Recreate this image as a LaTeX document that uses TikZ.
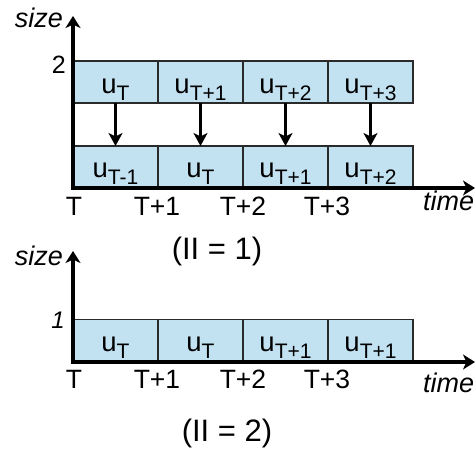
\documentclass[tikz,border=0pt]{standalone}
\usepackage{fontspec}
\setmainfont{Liberation Sans}
\usetikzlibrary{arrows.meta}
\definecolor{boxblue}{HTML}{C2E1F1}
\definecolor{boxedge}{HTML}{2A2A2A}
\newcommand\usub[1]{u\raisebox{-7.5pt}{\fontsize{21}{21}\selectfont #1}}
\tikzset{
  cell/.style={draw=boxedge, line width=1.6pt, fill=boxblue, minimum width=85pt, minimum height=42pt, inner sep=0pt, outer sep=0pt},
  ulabel/.style={anchor=base, inner sep=0pt, font=\fontsize{27.5}{27.5}\selectfont},
  axis/.style={line width=4pt, -{Stealth[length=12pt,width=15pt,inset=3.5pt]}},
  move/.style={line width=3.4pt, -{Stealth[length=13pt,width=14pt,inset=3.5pt]}},
  tick/.style={anchor=base, inner sep=0pt, font=\fontsize{26.5}{26.5}\selectfont},
  axlab/.style={inner sep=0pt, font=\fontsize{27}{27}\selectfont\itshape},
  caption/.style={anchor=base, inner sep=0pt, font=\fontsize{31}{31}\selectfont}
}
\begin{document}
\begin{tikzpicture}[x=1pt,y=-1pt]
\useasboundingbox (0,0) rectangle (475,451);
% ---------- top chart ----------
\foreach \i/\xc in {1/115.5,2/200.5,3/285.5,4/370.5}{
  \node[cell] (a\i) at (\xc,82) {};
  \node[cell] (b\i) at (\xc,167) {};
}
\node[ulabel] (la1) at (115.5,93) {\usub{T}};
\node[ulabel] (la2) at (200.5,93) {\usub{T+1}};
\node[ulabel] (la3) at (285.5,93) {\usub{T+2}};
\node[ulabel] (la4) at (370.5,93) {\usub{T+3}};
\node[ulabel] (lb1) at (115.5,177) {\usub{T-1}};
\node[ulabel] (lb2) at (200.5,177) {\usub{T}};
\node[ulabel] (lb3) at (285.5,177) {\usub{T+1}};
\node[ulabel] (lb4) at (370.5,177) {\usub{T+2}};
\foreach \i in {1,2,3,4}{
  \draw[move] (a\i.south) -- (b\i.north);
}
\coordinate (o1) at (73,188);
\coordinate (ytop1) at (73,16);
\coordinate (xend1) at (475,188);
\draw[axis] ([xshift=-2pt]o1) -- (xend1);
\draw[axis] ([yshift=2pt]o1) -- (ytop1);
\node[axlab, anchor=base east] (size1) at (63,27) {size};
\node[inner sep=0pt, anchor=base east, font=\fontsize{25}{25}\selectfont] (two) at (66,73) {2};
\node[axlab, anchor=base west] (time1) at (423,210) {time};
\node[tick] (t10) at (74,215) {T};
\node[tick] (t11) at (157,215) {T+1};
\node[tick] (t12) at (243,215) {T+2};
\node[tick] (t13) at (327,215) {T+3};
\node[caption] (cap1) at (217,259) {(II = 1)};
% ---------- bottom chart ----------
\node[cell] (c1) at (115.5,340.5) {};
\node[cell] (c2) at (200.5,340.5) {};
\node[cell] (c3) at (285.5,340.5) {};
\node[cell] (c4) at (370.5,340.5) {};
\node[ulabel] (lc1) at (115.5,351) {\usub{T}};
\node[ulabel] (lc2) at (200.5,351) {\usub{T}};
\node[ulabel] (lc3) at (285.5,351) {\usub{T+1}};
\node[ulabel] (lc4) at (370.5,351) {\usub{T+1}};
\coordinate (o2) at (73,362);
\coordinate (ytop2) at (73,251);
\coordinate (xend2) at (475,362);
\draw[axis] ([xshift=-2pt]o2) -- (xend2);
\draw[axis] ([yshift=2pt]o2) -- (ytop2);
\node[axlab, anchor=base east] (size2) at (63,265) {size};
\node[inner sep=0pt, anchor=base east, font=\fontsize{24}{24}\selectfont\itshape] (one) at (65,328) {1};
\node[axlab, anchor=base west] (time2) at (423,392) {time};
\node[tick] (t20) at (74,388) {T};
\node[tick] (t21) at (157,388) {T+1};
\node[tick] (t22) at (243,388) {T+2};
\node[tick] (t23) at (327,388) {T+3};
\node[caption] (cap2) at (227,441) {(II = 2)};
\end{tikzpicture}
\end{document}
